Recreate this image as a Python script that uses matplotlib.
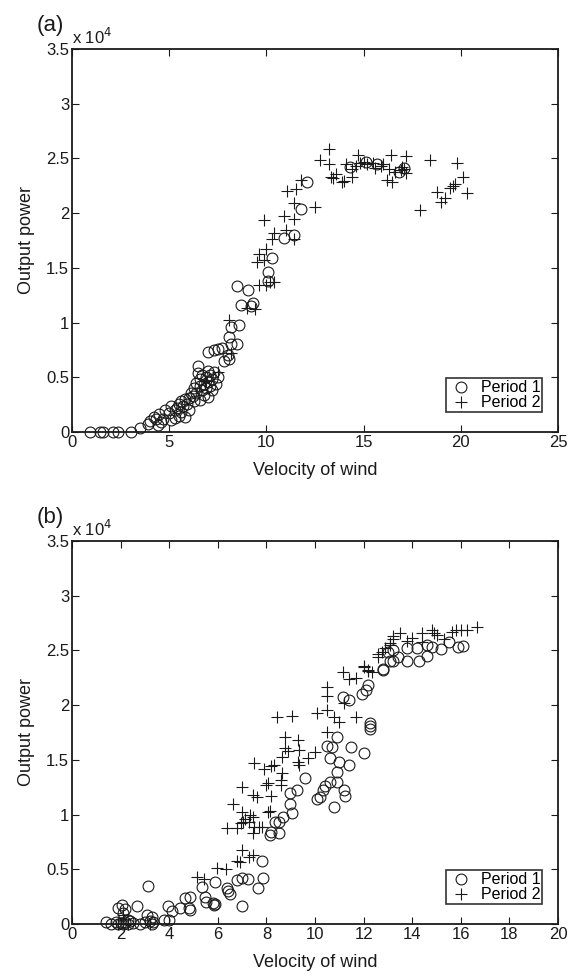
import matplotlib
matplotlib.use("Agg")
import matplotlib.pyplot as plt
from matplotlib.ticker import FuncFormatter, MultipleLocator

plt.rcParams['font.family'] = ['Liberation Sans', 'DejaVu Sans']

# ---------------- data (power in W) ----------------
a_p1_v = [0.9, 1.45, 1.6, 2.1, 2.35, 3.05, 3.5, 3.9, 4.0, 4.2, 4.3, 4.4, 4.5, 4.7, 4.8, 5.0, 5.1, 5.1, 5.3, 5.4,
          5.5, 5.5, 5.6, 5.7, 5.8, 5.8, 5.9, 6.0, 6.0, 5.6, 6.1, 6.2, 6.3, 6.4, 6.4, 6.5, 6.5, 6.6, 6.6, 6.7,
          6.7, 6.8, 6.8, 6.9, 6.9, 7.0, 7.0, 7.0, 7.1, 7.1, 7.2, 7.2, 7.3, 7.4, 7.5, 7.0, 7.3, 7.5, 7.7, 7.8,
          8.0, 8.1, 8.2, 8.1, 8.2, 8.5, 8.6, 8.7, 8.5, 9.05, 9.2, 9.3, 10.1, 10.1, 10.3, 10.9, 11.4, 11.8, 12.1,
          14.3, 15.1, 15.7, 16.8, 17.1, 6.6, 6.3, 5.3, 4.6]
a_p1_p = [0, 0, 0, 0, 0, 0, 0.04, 0.07, 0.1, 0.14, 0.12, 0.06, 0.16, 0.12, 0.2, 0.17, 0.11, 0.24, 0.2, 0.22,
          0.15, 0.26, 0.28, 0.24, 0.14, 0.3, 0.26, 0.31, 0.2, 0.18, 0.36, 0.33, 0.4, 0.45, 0.36, 0.54, 0.6, 0.42, 0.48, 0.38,
          0.52, 0.44, 0.34, 0.5, 0.4, 0.46, 0.56, 0.32, 0.42, 0.52, 0.48, 0.38, 0.55, 0.44, 0.5, 0.73, 0.75, 0.76, 0.77, 0.65,
          0.70, 0.67, 0.8, 0.87, 0.96, 0.8, 0.98, 1.16, 1.33, 1.3, 1.15, 1.18, 1.46, 1.38, 1.59, 1.77, 1.8, 2.04, 2.28,
          2.42, 2.47, 2.45, 2.38, 2.41, 0.29, 0.28, 0.13, 0.09]
a_p1_p = [p * 1e4 for p in a_p1_p]

a_p2_v = [8.1, 8.2, 9.0, 9.4, 9.5, 9.6, 9.6, 9.9, 9.9, 10.0, 10.0, 10.2, 10.3, 10.4, 10.4, 10.9, 11.0, 11.05, 11.4, 11.4,
          11.4, 11.5, 11.8, 12.5, 12.75, 13.2, 13.2, 13.3, 13.6, 14.0, 14.1, 14.4, 14.4, 14.6, 14.7, 14.8, 15.0, 15.2, 15.5, 15.6,
          15.9, 16.0, 16.2, 16.3, 16.4, 16.45, 16.6, 16.9, 17.0, 17.1, 17.2, 17.2, 18.4, 17.9, 18.8, 19.0, 19.2, 19.45, 19.6, 19.7,
          19.8, 20.1, 20.3, 6.9, 7.5, 13.4, 13.9]
a_p2_p = [1.02, 0.72, 1.13, 1.12, 1.55, 1.63, 1.34, 1.57, 1.94, 1.67, 1.34, 1.37, 1.76, 1.82, 1.37, 1.97, 1.85, 2.2, 2.09, 1.95,
          1.76, 2.22, 2.3, 2.06, 2.49, 2.59, 2.45, 2.33, 2.36, 2.29, 2.45, 2.33, 2.4, 2.43, 2.53, 2.46, 2.47, 2.45, 2.46, 2.41,
          2.43, 2.45, 2.3, 2.4, 2.53, 2.28, 2.38, 2.39, 2.42, 2.4, 2.52, 2.37, 2.49, 2.03, 2.19, 2.1, 2.14, 2.23, 2.25, 2.27,
          2.46, 2.33, 2.18, 0.47, 0.55, 2.32, 2.28]
a_p2_p = [p * 1e4 for p in a_p2_p]

b_p1_v = [1.4, 1.6, 1.8, 1.9, 2.0, 2.1, 2.2, 2.3, 2.4, 2.5, 2.8, 3.0, 3.2, 3.3, 3.35, 3.8, 4.0, 1.9, 2.06, 2.2,
          2.67, 3.08, 3.3, 3.13, 3.95, 4.1, 4.44, 4.65, 4.85, 4.8, 4.85, 5.35, 5.47, 5.5, 5.8, 5.85, 5.9, 5.88, 6.38, 6.4,
          6.5, 6.8, 7.0, 7.0, 7.25, 7.65, 7.86, 7.8, 8.15, 8.2, 8.35, 8.5, 8.5, 8.7, 8.97, 8.97, 9.05, 9.25, 9.6, 10.1,
          10.2, 10.33, 10.4, 10.6, 10.8, 10.9, 10.9, 11.0, 11.2, 11.25, 11.4, 10.6, 10.5, 10.7, 10.9, 11.5, 12.0, 12.26, 12.26, 12.26,
          11.15, 11.4, 11.95, 12.1, 12.2, 12.8, 12.8, 13.1, 13.2, 13.4, 13.0, 13.2, 13.8, 13.8, 14.2, 14.3, 14.6, 14.6, 14.8, 15.2,
          15.5, 15.9, 16.1, 2.1, 2.3]
b_p1_p = [0.02, 0.0, 0.02, 0.0, 0.01, 0.0, 0.02, 0.0, 0.03, 0.01, 0.0, 0.02, 0.03, 0.0, 0.02, 0.04, 0.04, 0.15, 0.17, 0.14,
          0.16, 0.08, 0.06, 0.35, 0.16, 0.12, 0.15, 0.24, 0.25, 0.15, 0.13, 0.34, 0.25, 0.2, 0.19, 0.17, 0.18, 0.38, 0.33, 0.3,
          0.27, 0.4, 0.16, 0.42, 0.41, 0.33, 0.42, 0.58, 0.81, 0.84, 0.93, 0.93, 0.83, 0.98, 1.1, 1.2, 1.01, 1.22, 1.33, 1.14,
          1.16, 1.22, 1.26, 1.3, 1.07, 1.3, 1.39, 1.48, 1.22, 1.17, 1.45, 1.52, 1.63, 1.62, 1.71, 1.62, 1.56, 1.84, 1.81, 1.78,
          2.07, 2.05, 2.1, 2.14, 2.18, 2.32, 2.33, 2.4, 2.4, 2.44, 2.49, 2.5, 2.4, 2.52, 2.52, 2.4, 2.45, 2.55, 2.53, 2.51,
          2.58, 2.53, 2.54, 0.1, 0.04]
b_p1_p = [p * 1e4 for p in b_p1_p]

b_p2_v = [1.9, 2.1, 2.3, 3.2, 5.13, 5.45, 5.95, 6.35, 6.8, 6.9, 7.0, 7.3, 7.45, 6.38, 6.8, 6.95, 7.1, 7.28, 7.33, 7.45,
          7.5, 7.8, 8.14, 7.0, 6.63, 6.98, 7.45, 7.6, 8.0, 8.2, 7.04, 7.46, 7.7, 8.07, 8.07, 8.6, 8.6, 8.64, 7.5, 7.9,
          8.2, 8.3, 8.64, 8.77, 8.9, 9.35, 9.3, 9.35, 9.7, 10.0, 8.77, 9.3, 8.43, 9.05, 10.1, 10.5, 10.5, 10.8, 11.0, 11.7,
          10.5, 10.5, 11.2, 11.15, 11.4, 11.7, 12.0, 12.0, 12.2, 12.35, 12.2, 12.6, 12.6, 12.75, 12.9, 13.1, 13.1, 13.2, 13.2, 13.5,
          13.8, 14.0, 14.4, 14.4, 14.8, 14.9, 15.0, 15.3, 15.65, 15.8, 16.0, 16.25, 16.65]
b_p2_p = [0.0, 0.08, 0.0, 0.0, 0.43, 0.41, 0.51, 0.5, 0.58, 0.57, 0.68, 0.61, 0.63, 0.88, 0.88, 0.92, 0.96, 0.93, 1.0, 0.98,
          0.89, 0.89, 1.03, 1.02, 1.1, 1.25, 1.18, 1.16, 1.27, 1.17, 0.93, 0.83, 0.89, 1.02, 1.29, 1.32, 1.27, 1.38, 1.47, 1.42,
          1.44, 1.45, 1.53, 1.61, 1.58, 1.59, 1.48, 1.45, 1.52, 1.57, 1.71, 1.68, 1.89, 1.9, 1.93, 1.96, 1.75, 1.89, 1.85, 1.89,
          2.08, 2.17, 2.02, 2.3, 2.24, 2.25, 2.35, 2.36, 2.31, 2.3, 2.32, 2.44, 2.47, 2.49, 2.52, 2.55, 2.57, 2.6, 2.63, 2.66,
          2.59, 2.61, 2.58, 2.66, 2.69, 2.66, 2.64, 2.6, 2.67, 2.69, 2.69, 2.69, 2.71]
b_p2_p = [p * 1e4 for p in b_p2_p]

series_labels = ["Period 1", "Period 2"]
panel_labels = ["(a)", "(b)"]
x_label = "Velocity of wind"
y_label = "Output power"

# ---------------- figure ----------------
fig = plt.figure(figsize=(5.78, 9.76), dpi=100)
ax_a = fig.add_axes([0.1246, 0.5574, 0.8408, 0.3924])
ax_b = fig.add_axes([0.1246, 0.0533, 0.8408, 0.3924])

panels = [
    (ax_a, a_p1_v, a_p1_p, a_p2_v, a_p2_p, 25, 5),
    (ax_b, b_p1_v, b_p1_p, b_p2_v, b_p2_p, 20, 2),
]

for i, (ax, v1, p1, v2, p2, xmax, xstep) in enumerate(panels):
    ax.plot(v1, p1, linestyle='none', marker='o', markersize=7.8, markerfacecolor='none',
            markeredgecolor='#1a1a1a', markeredgewidth=0.8, label=series_labels[0], clip_on=False)
    ax.plot(v2, p2, linestyle='none', marker='+', markersize=8.5, color='#1a1a1a',
            markeredgewidth=0.8, label=series_labels[1], clip_on=False)
    ax.set_xlim(0, xmax)
    ax.set_ylim(0, 3.5e4)
    ax.xaxis.set_major_locator(MultipleLocator(xstep))
    ax.yaxis.set_major_locator(MultipleLocator(5000))
    ax.yaxis.set_major_formatter(FuncFormatter(lambda y, pos: ('%g' % (y / 1e4))))
    ax.tick_params(direction='in', top=True, right=True, length=5, width=0.8,
                   labelsize=12, colors='#1a1a1a', pad=2)
    for s in ax.spines.values():
        s.set_linewidth(1.3)
        s.set_color('#1a1a1a')
    ax.set_xlabel(x_label, fontsize=13, color='#1a1a1a', labelpad=9)
    ax.set_ylabel(y_label, fontsize=13, color='#1a1a1a', labelpad=8)
    ax.text(0.0, 1.006, r'x 10$^{4}$', transform=ax.transAxes, fontsize=12,
            ha='left', va='bottom', color='#1a1a1a')
    ax.text(-0.072, 1.035, panel_labels[i], transform=ax.transAxes, fontsize=16,
            ha='left', va='bottom', color='#1a1a1a')
    leg = ax.legend(loc='lower right', bbox_to_anchor=(0.968, 0.052), frameon=True, fancybox=False,
                    edgecolor='black', fontsize=11.5, handlelength=1.6, handletextpad=0.45,
                    borderpad=0.12, labelspacing=0.0, borderaxespad=0.0)
    leg.get_frame().set_linewidth(1.2)

fig.savefig("out.png", dpi=100)
